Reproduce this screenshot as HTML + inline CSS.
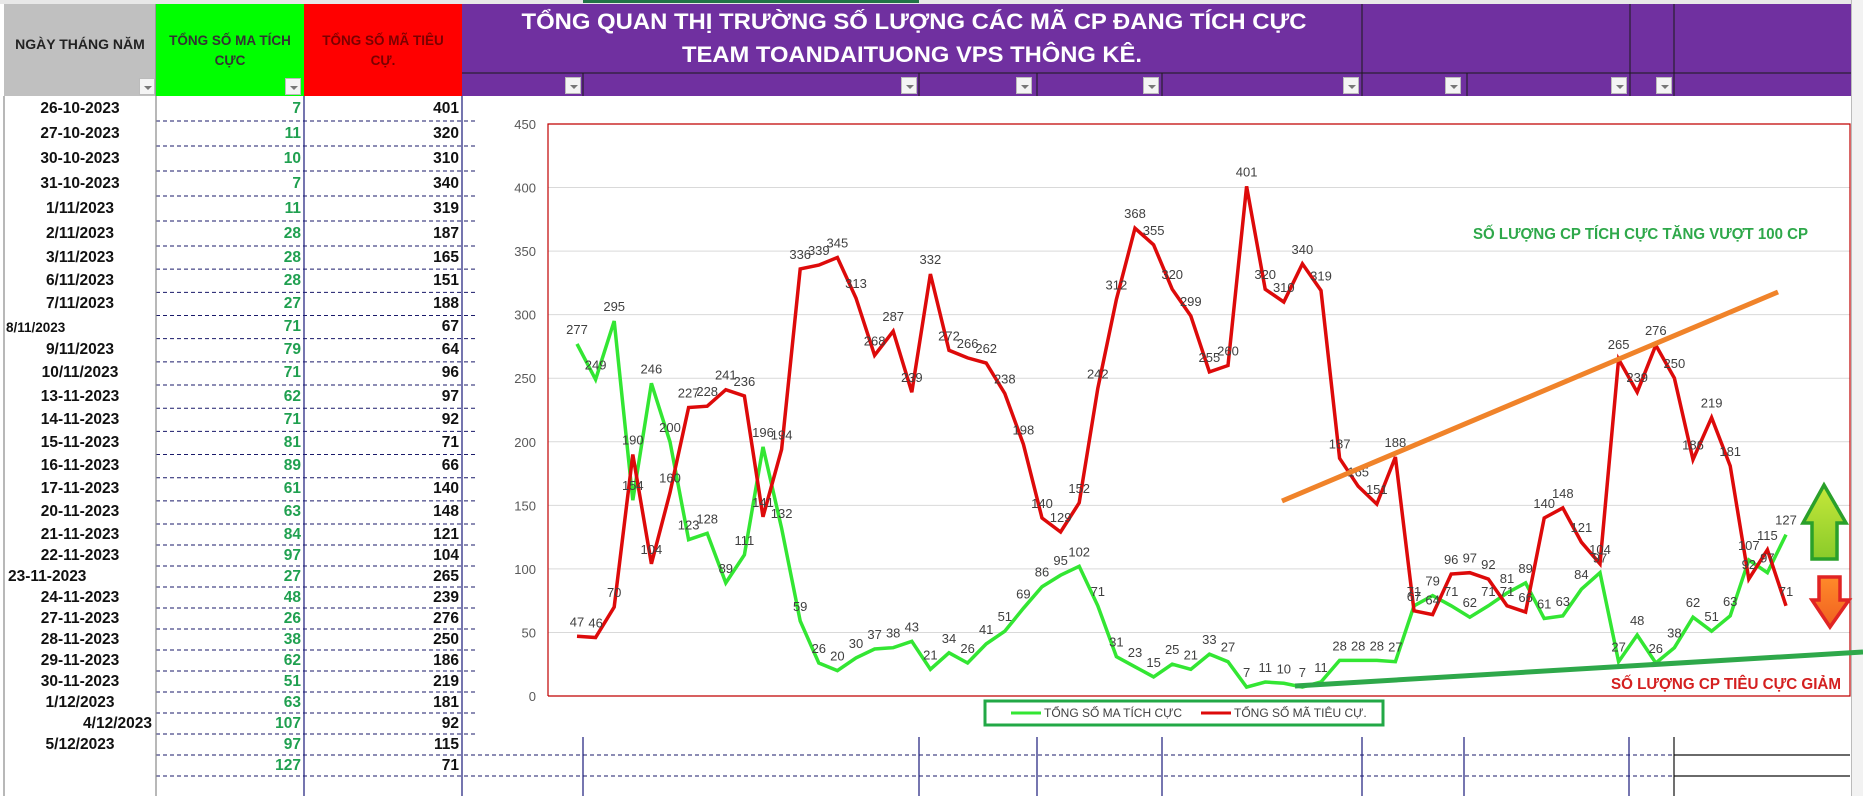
<!DOCTYPE html>
<html><head><meta charset="utf-8">
<style>
*{margin:0;padding:0;box-sizing:border-box}
body{width:1863px;height:796px;overflow:hidden;background:#fff;font-family:"Liberation Sans","DejaVu Sans",sans-serif;position:relative}
.abs{position:absolute}
.dd{position:absolute;width:16px;height:17px;background:#f4f4f4;border:1px solid #bbb}
.dd:after{content:"";position:absolute;left:4px;top:7px;border-left:4px solid transparent;border-right:4px solid transparent;border-top:4px solid #777}
.cell{position:absolute;font-weight:bold;white-space:nowrap;display:flex;align-items:center}
</style></head>
<body>
<div class="abs" style="left:0;top:0;width:1863px;height:4px;background:#e8e8e8"></div>
<div class="abs" style="left:583px;top:0;width:336px;height:3px;background:#217346"></div>

<div class="abs" style="left:4px;top:4px;width:152px;height:92px;background:#c0c0c0;border-right:1px solid #999"></div>
<div class="cell" style="left:4px;top:36px;width:152px;justify-content:center;font-size:14px;color:#222">NGÀY THÁNG NĂM</div>
<div class="dd" style="left:139px;top:78px"></div>

<div class="abs" style="left:156px;top:4px;width:148px;height:92px;background:#00ff00"></div>
<div class="abs" style="left:156px;top:31px;width:148px;text-align:center;font-size:13.5px;font-weight:bold;color:#333;line-height:20px">TỔNG SỐ MA TÍCH<br>CỰC</div>
<div class="dd" style="left:285px;top:78px"></div>

<div class="abs" style="left:304px;top:4px;width:158px;height:92px;background:#ff0000"></div>
<div class="abs" style="left:304px;top:31px;width:158px;text-align:center;font-size:13.5px;font-weight:bold;color:#7a0000;line-height:20px">TỔNG SỐ MÃ TIÊU<br>CỰ.</div>

<div class="abs" style="left:462px;top:4px;width:1389px;height:92px;background:#7030a0"></div>
<svg class="abs" style="left:0;top:0" width="1863" height="796">
<g stroke="#1a1a1a" stroke-width="1">
<line x1="462" y1="73" x2="1851" y2="73"/>
<line x1="1362" y1="4" x2="1362" y2="96"/><line x1="1630" y1="4" x2="1630" y2="96"/><line x1="1674" y1="4" x2="1674" y2="96"/>
<line x1="583" y1="73" x2="583" y2="96"/><line x1="919" y1="73" x2="919" y2="96"/><line x1="1037" y1="73" x2="1037" y2="96"/><line x1="1162" y1="73" x2="1162" y2="96"/><line x1="1467" y1="73" x2="1467" y2="96"/>
</g>
<text x="914" y="29" text-anchor="middle" font-size="22" font-weight="bold" fill="#fff" textLength="785" lengthAdjust="spacingAndGlyphs">TỔNG QUAN THỊ TRƯỜNG SỐ LƯỢNG CÁC MÃ CP ĐANG TÍCH CỰC</text>
<text x="912" y="62" text-anchor="middle" font-size="22" font-weight="bold" fill="#fff" textLength="460" lengthAdjust="spacingAndGlyphs">TEAM TOANDAITUONG VPS THÔNG KÊ.</text>
</svg>
<div class="dd" style="left:565px;top:77px"></div>
<div class="dd" style="left:901px;top:77px"></div>
<div class="dd" style="left:1016px;top:77px"></div>
<div class="dd" style="left:1143px;top:77px"></div>
<div class="dd" style="left:1343px;top:77px"></div>
<div class="dd" style="left:1445px;top:77px"></div>
<div class="dd" style="left:1611px;top:77px"></div>
<div class="dd" style="left:1656px;top:77px"></div>
<div class="abs" style="left:1851px;top:0;width:12px;height:796px;background:#f2f2f2;border-left:1px solid #bbb"></div>

<div id="table"></div>
<svg id="chart" class="abs" style="left:0;top:0" width="1863" height="796"></svg>

<script>
const positiveValues=[277,249,295,154,246,200,123,128,89,111,196,132,59,26,20,30,37,38,43,21,34,26,41,51,69,86,95,102,71,31,23,15,25,21,33,27,7,11,10,7,11,28,28,28,27,71,79,71,62,71,81,89,61,63,84,97,27,48,26,38,62,51,63,107,97,127];
const negativeValues=[47,46,70,190,104,160,227,228,241,236,141,194,336,339,345,313,268,287,239,332,272,266,262,238,198,140,129,152,242,312,368,355,320,299,255,260,401,320,310,340,319,187,165,151,188,67,64,96,97,92,71,66,140,148,121,104,265,239,276,250,186,219,181,92,115,71];
const yTicks=[0,50,100,150,200,250,300,350,400,450];
const tableDates=["26-10-2023","27-10-2023","30-10-2023","31-10-2023","1/11/2023","2/11/2023","3/11/2023","6/11/2023","7/11/2023","8/11/2023","9/11/2023","10/11/2023","13-11-2023","14-11-2023","15-11-2023","16-11-2023","17-11-2023","20-11-2023","21-11-2023","22-11-2023","23-11-2023","24-11-2023","27-11-2023","28-11-2023","29-11-2023","30-11-2023","1/12/2023","4/12/2023","5/12/2023",""];
const legendLabels=["TỔNG SỐ MA TÍCH CỰC","TỔNG SỐ MÃ TIÊU CỰ."];

// ---- table ----
const tbl=document.getElementById('table');
const tStart=negativeValues.length-tableDates.length;
let rowTop=96;
const lines=[];
for(let r=0;r<tableDates.length;r++){
  const h=r<6?25:(r<18?23.17:21);
  const d=document.createElement('div');
  d.className='cell';
  
  
  let align='center',left=4,w=152,fs=15.5;
  if(tableDates[r]==='8/11/2023'){align='flex-start';left=6;fs=13.5;}
  if(tableDates[r]==='23-11-2023'){align='flex-start';left=8;}
  if(tableDates[r]==='4/12/2023'){align='flex-end';w=148;}
  d.style.cssText+=`left:${left}px;top:${rowTop}px;width:${w}px;height:${h}px;justify-content:${align};font-size:${fs}px;color:#111`;
  d.textContent=tableDates[r];
  tbl.appendChild(d);
  const g=document.createElement('div');
  g.className='cell';
  
  
  g.style.cssText+=`left:156px;top:${rowTop}px;width:145px;height:${h}px;justify-content:flex-end;font-size:15.5px;color:#20a050`;
  g.textContent=positiveValues[tStart+r];
  tbl.appendChild(g);
  const n=document.createElement('div');
  n.className='cell';
  
  
  n.style.cssText+=`left:304px;top:${rowTop}px;width:155px;height:${h}px;justify-content:flex-end;font-size:15.5px;color:#111`;
  n.textContent=negativeValues[tStart+r];
  tbl.appendChild(n);
  rowTop+=h;
  lines.push(rowTop);
}

// ---- chart ----
const NS='http://www.w3.org/2000/svg';
const svg=document.getElementById('chart');
function el(tag,attrs,parent){const e=document.createElementNS(NS,tag);for(const k in attrs)e.setAttribute(k,attrs[k]);(parent||svg).appendChild(e);return e;}
lines.forEach((y,i)=>{
  const l=el('line',{x1:156,y1:y,x2:i>=28?1674:476,y2:y,stroke:'#1a1a6a','stroke-width':1,'stroke-dasharray':'4,3'});
  
  
});
[[4,'#888'],[156,'#888'],[304,'#1a1a7a'],[462,'#1a1a7a']].forEach(([x,c])=>{
  const l=el('line',{x1:x,y1:96,x2:x,y2:796,stroke:c,'stroke-width':1.2});
  
  
});
[583,919,1037,1162,1362,1464,1629].forEach(x=>{
  const l=el('line',{x1:x,y1:737,x2:x,y2:796,stroke:'#1a1a7a','stroke-width':1.2});
  
  
});
el('line',{x1:1674,y1:737,x2:1674,y2:796,stroke:'#111','stroke-width':1.2});
el('line',{x1:1674,y1:755,x2:1850,y2:755,stroke:'#111','stroke-width':1.2});
el('line',{x1:1674,y1:776,x2:1850,y2:776,stroke:'#111','stroke-width':1.2});

const PL=548,PR=1850,PT=124,PB=696;
const yMax=450;
const X0=577,DX=18.6;
const xPos=i=>X0+i*DX;
const yPos=v=>PB-(v/yMax)*(PB-PT);

yTicks.forEach(t=>{
  if(t>0){const g=el('line',{x1:PL,y1:yPos(t),x2:PR,y2:yPos(t),stroke:'#d9d9d9','stroke-width':1});
  
  }
  const tx=el('text',{x:536,y:yPos(t)+5,'text-anchor':'end','font-size':13,fill:'#595959'});
  
  
  tx.textContent=t;
});
const frame=el('path',{d:`M${PL},${PB}V${PT}H${PR}V${PB}H${PL}`,fill:'none',stroke:'#c00000','stroke-width':1.2});



function series(vals,color,name){
  const pts=vals.map((v,i)=>`${xPos(i).toFixed(1)},${yPos(v).toFixed(1)}`).join(' ');
  const p=el('polyline',{points:pts,fill:'none',stroke:color,'stroke-width':3.5,'stroke-linejoin':'miter'});
  
  
}
function labels(vals,name){
  vals.forEach((v,i)=>{
    const t=el('text',{x:xPos(i),y:yPos(v)-10,'text-anchor':'middle','font-size':13,fill:'#404040'});
    
    
    t.textContent=v;
  });
}
series(positiveValues,'#33e633','positive-series-line');
series(negativeValues,'#dd0a0a','negative-series-line');
labels(positiveValues,'positive-data-label');
labels(negativeValues,'negative-data-label');

const tl1=el('line',{x1:1282,y1:501,x2:1778,y2:292,stroke:'#f0832a','stroke-width':5});


const tl2=el('line',{x1:1295,y1:686,x2:1863,y2:652,stroke:'#2ea84a','stroke-width':5});



const a1=el('text',{x:1473,y:239,'font-size':16,'font-weight':'bold',fill:'#2ea84a',textLength:335,lengthAdjust:'spacingAndGlyphs'});


a1.textContent='SỐ LƯỢNG CP TÍCH CỰC TĂNG VƯỢT 100 CP';
const a2=el('text',{x:1611,y:689,'font-size':16,'font-weight':'bold',fill:'#d42020',textLength:230,lengthAdjust:'spacingAndGlyphs'});


a2.textContent='SỐ LƯỢNG CP TIÊU CỰC GIẢM';

const defs=el('defs',{});
const g1=el('linearGradient',{id:'gu',x1:0,y1:0,x2:0,y2:1},defs);
el('stop',{offset:0,'stop-color':'#c6e83a'},g1);el('stop',{offset:1,'stop-color':'#8acb2a'},g1);
const g2=el('linearGradient',{id:'gd',x1:0,y1:0,x2:0,y2:1},defs);
el('stop',{offset:0,'stop-color':'#ff8a2a'},g2);el('stop',{offset:1,'stop-color':'#f06020'},g2);
const up=el('polygon',{points:'1824,485 1846,523 1837,523 1837,559 1812,559 1812,523 1803,523',fill:'url(#gu)',stroke:'#2aa02a','stroke-width':3.5,'stroke-linejoin':'miter'});


const dn=el('polygon',{points:'1819,577 1840,577 1840,600 1849,600 1830,627 1812,600 1819,600',fill:'url(#gd)',stroke:'#e02424','stroke-width':3.5});



const lg=el('rect',{x:985,y:701,width:398,height:24,fill:'#fff',stroke:'#22a846','stroke-width':3});


const lcolors=['#33e633','#dd0a0a'];const lx=[1011,1201];
legendLabels.forEach((s,i)=>{
  const ln=el('line',{x1:lx[i],y1:713,x2:lx[i]+30,y2:713,stroke:lcolors[i],'stroke-width':3});
  
  
  const t=el('text',{x:lx[i]+33,y:717,'font-size':12,fill:'#404040'});
  
  
  t.textContent=s;
});
</script>
</body></html>
